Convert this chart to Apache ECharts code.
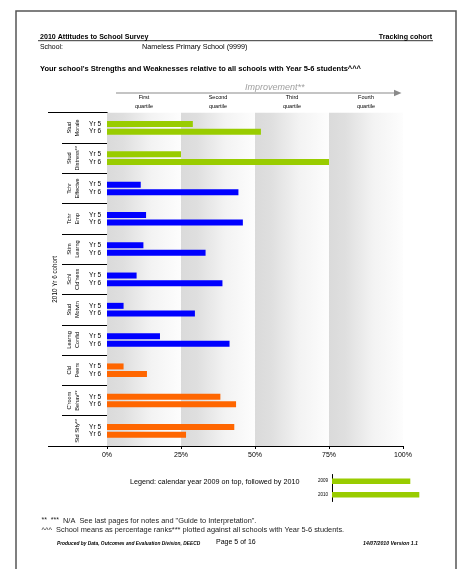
<!DOCTYPE html>
<html><head><meta charset="utf-8">
<script src="https://cdn.jsdelivr.net/npm/echarts@6/dist/echarts.min.js"></script>
<style>html,body{margin:0;padding:0;background:#fff}#c{width:462px;height:569px}</style>
</head><body><div id="c"></div>
<script>
// ---- data ----
const groupLabels = ['Stud\nMorale', 'Stud\nDistress**', 'Tchr\nEffectve', 'Tchr\nEmp', 'Stim\nLearng', "Schl\nCld'ness", 'Stud\nMotvtn', 'Learng\nConfid', 'Cld\nPeers', "C'room\nBehav**", 'Std Stfy**'];
const groupDomain = ['wellbeing', 'wellbeing', 'teaching', 'teaching', 'teaching', 'teaching', 'teaching', 'teaching', 'engagement', 'engagement', 'engagement'];
const yr5Values = [29, 25, 11.4, 13.2, 12.3, 10, 5.6, 17.9, 5.6, 38.3, 43];
const yr6Values = [52, 75, 44.4, 45.9, 33.3, 39, 29.7, 41.4, 13.5, 43.6, 26.7];
const yearLabels = ['Yr 5', 'Yr 6'];
const cohortLabel = '2010 Yr 6 cohort';
const xTicks = [0, 25, 50, 75, 100];
const quartileLabels = ['First\nquartile', 'Second\nquartile', 'Third\nquartile', 'Fourth\nquartile'];
const legendYears = ['2009', '2010'];
const legendValues = [87, 97];

// ---- styles ----
const domainColors = { wellbeing: '#99cc00', teaching: '#0000ff', engagement: '#ff6600' };
const FONT = '"Liberation Sans", Arial, sans-serif';
const bands = [];
for (let i = 0; i < xTicks.length - 1; i++) bands.push([xTicks[i], xTicks[i + 1]]);

const chart = echarts.init(document.getElementById('c'), null, { renderer: 'canvas' });

function txt(text, x, y, size, opts) {
  opts = opts || {};
  const align = opts.align || 'left';
  return {
    type: 'text', silent: true, z: 10,
    style: {
      text: text, x: x, y: y,
      font: (opts.style || '') + ' ' + (opts.weight || 'normal') + ' ' + size + 'px ' + FONT,
      fill: opts.color || '#000',
      align: align, textAlign: align,
      verticalAlign: 'middle', textVerticalAlign: 'middle'
    }
  };
}

const option = {
  animation: false,
  backgroundColor: '#fff',
  textStyle: { fontFamily: FONT },
  grid: [
    { left: 107, top: 112.7, width: 296, height: 333.3, containLabel: false, outerBoundsMode: 'none' },
    { left: 332, top: 474.5, width: 90, height: 27, containLabel: false, outerBoundsMode: 'none' }
  ],
  xAxis: [
    { type: 'value', gridIndex: 0, min: 0, max: 100, interval: 25,
      axisLine: { show: true, lineStyle: { color: '#000', width: 1 } },
      axisTick: { show: true, length: 3, lineStyle: { color: '#000' } },
      axisLabel: { formatter: '{value}%', fontSize: 7, margin: 6, color: '#000', fontFamily: FONT },
      splitLine: { show: false } },
    { type: 'category', gridIndex: 0, position: 'top', data: quartileLabels,
      axisLine: { show: false }, axisTick: { show: false }, splitLine: { show: false },
      axisLabel: { interval: 0, fontSize: 5.5, lineHeight: 8.7, margin: 2, color: '#000', fontFamily: FONT } },
    { type: 'value', gridIndex: 1, min: 0, max: 100, show: false }
  ],
  yAxis: [
    { type: 'category', gridIndex: 0, position: 'left', offset: 0, inverse: true, data: groupLabels,
      axisLine: { show: true, lineStyle: { color: '#000', width: 1 } },
      axisTick: { show: true, length: 45, lineStyle: { color: '#000', width: 1 } },
      axisLabel: { show: false }, splitLine: { show: false } },
    { type: 'category', gridIndex: 0, position: 'left', offset: 0, inverse: true, data: [cohortLabel],
      axisLine: { show: false },
      axisTick: { show: true, length: 59, lineStyle: { color: '#000', width: 1 } },
      axisLabel: { rotate: 90, margin: 49, fontSize: 6.3, color: '#000', fontFamily: FONT } },
    { type: 'category', gridIndex: 0, position: 'left', offset: 0, inverse: true, data: groupLabels,
      axisLine: { show: false }, axisTick: { show: false },
      axisLabel: { interval: 0, rotate: 90, margin: 26, fontSize: 5.6, lineHeight: 7.7, color: '#000', fontFamily: FONT } },
    { type: 'category', gridIndex: 0, position: 'left', offset: 0, inverse: true, data: groupLabels,
      axisLine: { show: false }, axisTick: { show: false },
      axisLabel: { interval: 0, margin: 6, fontSize: 6.5, lineHeight: 7.6, color: '#000', fontFamily: FONT,
        formatter: function () { return yearLabels.join('\n'); } } },
    { type: 'category', gridIndex: 1, position: 'left', inverse: true, data: legendYears,
      axisLine: { show: true, lineStyle: { color: '#000', width: 1 } }, axisTick: { show: false },
      axisLabel: { fontSize: 4.5, margin: 4, color: '#000', fontFamily: FONT } }
  ],
  series: [
    { type: 'custom', xAxisIndex: 0, yAxisIndex: 0, z: 1, silent: true,
      data: bands, encode: { x: [0, 1] },
      renderItem: function (params, api) {
        const cs = params.coordSys;
        const x0 = api.coord([api.value(0), 0])[0];
        const x1 = api.coord([api.value(1), 0])[0];
        return { type: 'rect', shape: { x: x0, y: cs.y, width: x1 - x0, height: cs.height },
          style: { fill: new echarts.graphic.LinearGradient(0, 0, 1, 0, [
            { offset: 0, color: '#dadada' }, { offset: 0.22, color: '#dfdfdf' },
            { offset: 0.6, color: '#f3f3f3' }, { offset: 1, color: '#fdfdfd' }]) } };
      } },
    { name: yearLabels[0], type: 'bar', xAxisIndex: 0, yAxisIndex: 0, z: 3,
      data: yr5Values, barWidth: 6, barGap: '27%',
      itemStyle: { color: function (p) { return domainColors[groupDomain[p.dataIndex]]; } } },
    { name: yearLabels[1], type: 'bar', xAxisIndex: 0, yAxisIndex: 0, z: 3,
      data: yr6Values, barWidth: 6, barGap: '27%',
      itemStyle: { color: function (p) { return domainColors[groupDomain[p.dataIndex]]; } } },
    { type: 'bar', xAxisIndex: 2, yAxisIndex: 4, data: legendValues, barWidth: 5.5,
      itemStyle: { color: domainColors.wellbeing } }
  ],
  graphic: [
    { type: 'rect', silent: true, z: 0, shape: { x: 16, y: 11, width: 440, height: 600 },
      style: { fill: 'none', stroke: '#555', lineWidth: 1.5 } },
    txt('2010 Attitudes to School Survey', 40, 36.7, 7.1, { weight: 'bold' }),
    txt('Tracking cohort', 432, 36.7, 7.1, { weight: 'bold', align: 'right' }),
    { type: 'line', silent: true, shape: { x1: 38, y1: 40.7, x2: 433, y2: 40.7 }, style: { stroke: '#000', lineWidth: 0.8 } },
    txt('School:', 40, 47, 6.9),
    txt('Nameless Primary School (9999)', 142, 47, 7.2),
    txt("Your school's Strengths and Weaknesses relative to all schools with Year 5-6 students^^^", 40, 69.3, 7.5, { weight: 'bold' }),
    { type: 'line', silent: true, shape: { x1: 116, y1: 93, x2: 396, y2: 93 }, style: { stroke: '#8a8a8a', lineWidth: 1.2 } },
    { type: 'polygon', silent: true, shape: { points: [[394, 89.8], [401.5, 93], [394, 96.2]] }, style: { fill: '#8a8a8a' } },
    txt('Improvement**', 245, 87.5, 9, { style: 'italic', color: '#a0a0a0' }),
    txt('Legend: calendar year 2009 on top, followed by 2010', 130, 481.8, 7.2),
    txt('**  ***', 41.5, 520.5, 7, { color: '#222' }),
    txt('N/A  See last pages for notes and "Guide to Interpretation".', 63, 520.5, 7.4, { color: '#222' }),
    txt('^^^  School means as percentage ranks*** plotted against all schools with Year 5-6 students.', 41.5, 529.8, 7.4, { color: '#222' }),
    txt('Produced by Data, Outcomes and Evaluation Division, DEECD', 57, 543.3, 4.85, { style: 'italic', weight: 'bold' }),
    txt('Page 5 of 16', 216, 542.5, 7),
    txt('14/07/2010 Version 1.1', 418, 543.3, 5.2, { style: 'italic', weight: 'bold', align: 'right' })
  ]
};
chart.setOption(option);
</script>
</body></html>
